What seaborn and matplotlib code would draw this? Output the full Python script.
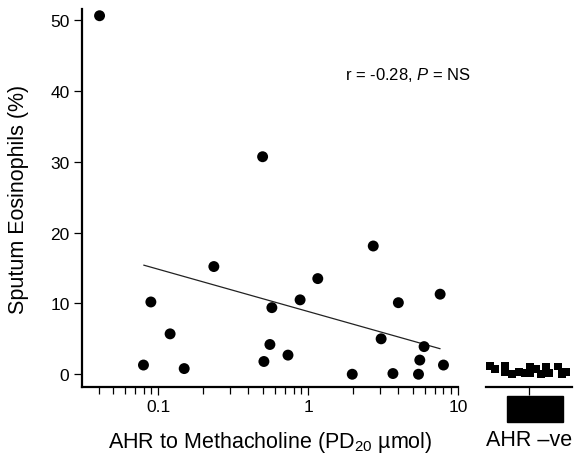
import matplotlib
matplotlib.use("Agg")
import matplotlib.pyplot as plt
from matplotlib.patches import Rectangle
from matplotlib.ticker import LogLocator, NullFormatter
import seaborn as sns
import pandas as pd

# AHR positive subjects: PD20 methacholine (umol) vs sputum eosinophils (%)
pd20 = [0.0406, 0.497, 0.0893, 0.12, 0.235, 0.573, 0.884, 1.16, 2.72, 4.0,
        7.6, 3.07, 0.556, 5.94, 0.0797, 0.149, 0.507, 0.734, 1.97, 3.68,
        5.45, 5.56, 8.0]
eos = [50.6, 30.7, 10.2, 5.7, 15.2, 9.4, 10.5, 13.5, 18.1, 10.1,
       11.3, 5.0, 4.2, 3.9, 1.3, 0.8, 1.8, 2.7, 0.0, 0.1,
       0.0, 2.0, 1.3]

# regression line end points
fit_pd20 = [0.08, 7.6]
fit_eos = [15.4, 3.6]

# AHR negative subjects (jittered category position, eosinophils %)
neg_pos = [-0.9, -0.8, -0.56, -0.56, -0.4, -0.23, -0.1, 0.02, 0.02, 0.16,
           0.28, 0.4, 0.47, 0.67, 0.77, 0.86]
neg_eos = [1.2, 0.8, 1.2, 0.3, 0.0, 0.3, 0.15, 1.1, 0.2, 0.8,
           0.0, 1.1, 0.2, 1.1, 0.0, 0.3]

y_ticks = [0, 10, 20, 30, 40, 50]
x_ticks = [0.1, 1, 10]
x_tick_labels = ["0.1", "1", "10"]

df = pd.DataFrame({"pd20": pd20, "eos": eos})
df_neg = pd.DataFrame({"pos": neg_pos, "eos": neg_eos})

sns.set_style("ticks", {"axes.edgecolor": "black", "xtick.color": "black",
                        "ytick.color": "black", "text.color": "black",
                        "axes.labelcolor": "black"})
plt.rcParams["font.family"] = ["Liberation Sans", "DejaVu Sans"]
plt.rcParams["mathtext.fontset"] = "custom"
plt.rcParams["mathtext.rm"] = "Liberation Sans"
plt.rcParams["mathtext.it"] = "Liberation Sans:italic"

fig = plt.figure(figsize=(5.8, 4.6), dpi=100)
ylim = (-1.8, 51.55)

# main scatter panel
ax = fig.add_axes([82 / 580, 72 / 460, 376 / 580, 378 / 460])
sns.scatterplot(data=df, x="pd20", y="eos", ax=ax, color="black",
                s=62, edgecolor="none", zorder=3)
sns.lineplot(x=fit_pd20, y=fit_eos, ax=ax, color="#222222", lw=0.9)
ax.set_xscale("log")
ax.set_xlim(0.031, 10)
ax.set_ylim(*ylim)
ax.set_xticks(x_ticks)
ax.set_xticklabels(x_tick_labels)
ax.xaxis.set_minor_locator(LogLocator(base=10, subs=range(2, 10)))
ax.xaxis.set_minor_formatter(NullFormatter())
ax.set_yticks(y_ticks)
sns.despine(ax=ax)
for s in ["left", "bottom"]:
    ax.spines[s].set_linewidth(1.6)
ax.tick_params(which="major", length=6, width=0.9, labelsize=12.5, pad=3)
ax.tick_params(which="minor", length=5, width=0.9)
ax.set_xlabel(r"AHR to Methacholine (PD$_{20}$ µmol)", fontsize=15.5)
ax.set_ylabel("Sputum Eosinophils (%)", fontsize=15.5)
ax.xaxis.set_label_coords(0.5, -0.11)
ax.yaxis.set_label_coords(-0.14, 0.5)
ax.text(1.77, 42.4, r"r = -0.28, $\it{P}$ = NS", fontsize=12, va="center", ha="left")

# AHR negative panel
ax2 = fig.add_axes([486 / 580, 72 / 460, 86 / 580, 378 / 460])
sns.scatterplot(data=df_neg, x="pos", y="eos", ax=ax2, color="black",
                marker="s", s=32, edgecolor="none")
ax2.set_xlim(-1, 1)
ax2.set_ylim(*ylim)
ax2.set_xticks([0])
ax2.set_xticklabels([""])
ax2.set_yticks([])
ax2.set_ylabel("")
for s in ["left", "top", "right"]:
    ax2.spines[s].set_visible(False)
ax2.spines["bottom"].set_linewidth(1.6)
ax2.tick_params(axis="x", length=6, width=0.9)
ax2.set_xlabel("AHR \u2013ve", fontsize=15.5)
ax2.xaxis.set_label_coords(0.5, -0.11)
ax2.add_patch(Rectangle((0.244, -0.0926), 0.651, 0.069, transform=ax2.transAxes,
                        clip_on=False, color="black"))

fig.savefig("out.png", dpi=100)
